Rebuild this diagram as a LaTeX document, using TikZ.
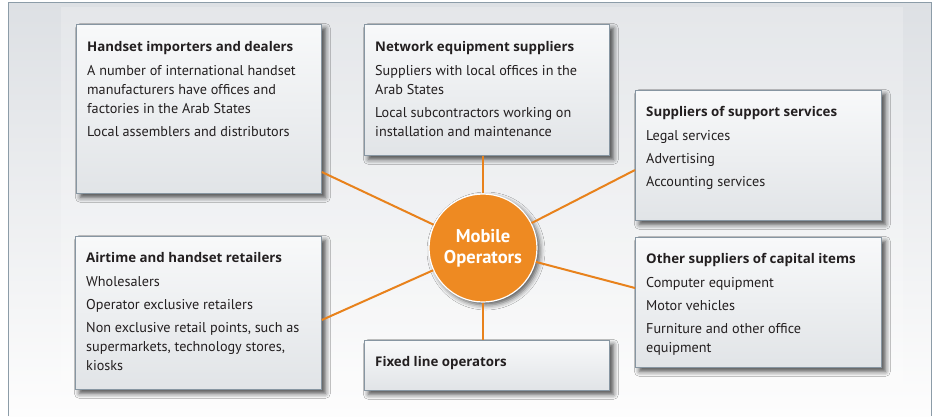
\documentclass[tikz,border=0pt]{standalone}
\usepackage{fontspec}
\setmainfont{PT Sans}
\newfontfamily\headfont{Open Sans}
\usetikzlibrary{shadows.blur,calc}

\definecolor{framecol}{HTML}{8C9CA8}
\definecolor{bgtop}{HTML}{DDE0E4}
\definecolor{bgbot}{HTML}{FDFDFD}
\definecolor{boxedge}{HTML}{8796A2}
\definecolor{boxtop}{HTML}{F8F9FA}
\definecolor{boxbot}{HTML}{E1E4E7}
\definecolor{hub}{HTML}{EE8A22}
\definecolor{spoke}{HTML}{E8821C}
\definecolor{ink}{HTML}{231F20}

\newcommand{\boxhead}[1]{{\headfont\bfseries\fontsize{13.3}{19}\selectfont #1}}

\begin{document}
\begin{tikzpicture}[x=1pt,y=-1pt,
  panel/.style={draw=boxedge, line width=0.8pt, top color=boxtop, bottom color=boxbot,
    anchor=north west, inner sep=0pt,
    blur shadow={shadow xshift=4pt, shadow yshift=-4pt, shadow blur radius=5pt, shadow opacity=70}},
  body/.style={anchor=north west, inner sep=0pt, align=left, text=ink,
    font=\fontsize{14.2}{19}\selectfont},
  spokeline/.style={draw=spoke, line width=2pt},
  hubnode/.style={circle, fill=hub, draw=white, line width=1.2pt, minimum size=108pt,
    inner sep=0pt, align=center, text=white,
    font=\fontsize{18.5}{21}\selectfont\bfseries,
    blur shadow={shadow xshift=3pt, shadow yshift=-3pt, shadow blur radius=5pt, shadow opacity=65}}]

\useasboundingbox (0,0) rectangle (935,416);

% background panel
\fill[top color=bgtop, bottom color=bgbot] (8,2) rectangle (931,416);
\fill[white, opacity=0.22] (61,7) rectangle (903,416);
\draw[framecol, line width=1pt] (8,416) -- (8,2) -- (931,2) -- (931,416);

% boxes
\node[panel, minimum width=245pt, minimum height=169pt] (b1) at (76,24) {};
\node[panel, minimum width=245pt, minimum height=131pt] (b2) at (364,24) {};
\node[panel, minimum width=246pt, minimum height=130pt] (b3) at (635,90) {};
\node[panel, minimum width=246pt, minimum height=153pt] (b4) at (75,236) {};
\node[panel, minimum width=245pt, minimum height=50pt]  (b5) at (364,340) {};
\node[panel, minimum width=246pt, minimum height=130pt] (b6) at (635,237) {};

% box texts
\node[body] (t1) at ($(b1.north west)+(11,17)$) {\boxhead{Handset importers and dealers}\\[5pt]
  A number of international handset\\ manufacturers have offices and\\ factories in the Arab States\\[4pt]
  Local assemblers and distributors};
\node[body] (t2) at ($(b2.north west)+(11,17)$) {\boxhead{Network equipment suppliers}\\[5pt]
  Suppliers with local offices in the\\ Arab States\\[4pt]
  Local subcontractors working on\\ installation and maintenance};
\node[body] (t3) at ($(b3.north west)+(11,16)$) {\boxhead{Suppliers of support services}\\[5pt]
  Legal services\\[4pt] Advertising\\[4pt] Accounting services};
\node[body] (t4) at ($(b4.north west)+(11,16)$) {\boxhead{Airtime and handset retailers}\\[5pt]
  Wholesalers\\[4pt] Operator exclusive retailers\\[4pt]
  Non exclusive retail points, such as\\ supermarkets, technology stores,\\ kiosks};
\node[body] (t5) at ($(b5.north west)+(11,16)$) {\boxhead{Fixed line operators}};
\node[body] (t6) at ($(b6.north west)+(11,16)$) {\boxhead{Other suppliers of capital items}\\[5pt]
  Computer equipment\\[4pt] Motor vehicles\\[4pt]
  Furniture and other office\\ equipment};

% hub
\node[hubnode] (c) at (483,248) {Mobile\\Operators};

% spoke end points on the box edges
\coordinate (p1) at ($(b1.north east)+(0,148)$);
\coordinate (p3) at ($(b3.north west)+(0,80)$);
\coordinate (p4) at ($(b4.north east)+(0,84)$);
\coordinate (p6) at ($(b6.north west)+(0,51)$);

\draw[spokeline] (c) -- (p1);
\draw[spokeline] (c) -- (p3);
\draw[spokeline] (c) -- (p4);
\draw[spokeline] (c) -- (p6);
\draw[spokeline] (c) -- (c |- b2.south);
\draw[spokeline] (c) -- (c |- b5.north);

\end{tikzpicture}
\end{document}
